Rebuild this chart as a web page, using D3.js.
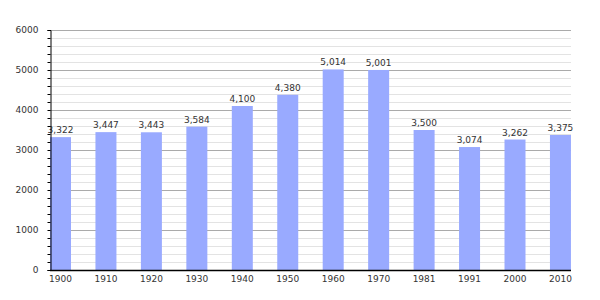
<!DOCTYPE html>
<html><head><meta charset="utf-8">
<script src="https://cdn.jsdelivr.net/npm/d3@7"></script>
<style>body{margin:0;background:#fff}svg{display:block}</style>
</head><body>
<svg id="c" width="600" height="300"></svg>
<script>
const years = ["1900","1910","1920","1930","1940","1950","1960","1970","1981","1991","2000","2010"];
const population = [3322,3447,3443,3584,4100,4380,5014,5001,3500,3074,3262,3375];
const yTicks = [0,1000,2000,3000,4000,5000,6000];

(function(){
const svg = d3.select("#c");
const mLeft = 50, mTop = 30, mBottom = 270, gridRight = 571;
const x = d3.scaleBand().domain(years).range([mLeft, mLeft + 12*45.45]).padding(0);
const barW = 21;
const y = d3.scaleLinear().domain([0,6000]).range([mBottom, mTop]);
const font = "DejaVu Sans, Verdana, sans-serif";

// minor gridlines
const minor = d3.range(200, 6001, 200).filter(v => v % 1000 !== 0);
svg.append("g").selectAll("line").data(minor).join("line")
  .attr("x1", mLeft).attr("x2", gridRight)
  .attr("y1", d => Math.round(y(d))+0.5).attr("y2", d => Math.round(y(d))+0.5)
  .attr("stroke", "#e3e3e3").attr("stroke-width", 1);
// major gridlines
svg.append("g").selectAll("line").data(yTicks.filter(v=>v>0)).join("line")
  .attr("x1", mLeft).attr("x2", gridRight)
  .attr("y1", d => Math.round(y(d))+0.5).attr("y2", d => Math.round(y(d))+0.5)
  .attr("stroke", "#aaaaaa").attr("stroke-width", 1);

// bars
svg.append("g").selectAll("rect").data(population).join("rect")
  .attr("x", (d,i) => x(years[i]))
  .attr("y", d => y(d))
  .attr("width", barW)
  .attr("height", d => mBottom - y(d))
  .attr("fill", "#99aaff");

// value labels
svg.append("g").selectAll("text").data(population).join("text")
  .attr("x", (d,i) => x(years[i]) + barW/2)
  .attr("y", d => y(d) - 4)
  .attr("text-anchor", "middle")
  .attr("font-family", font).attr("font-size", 9).attr("fill", "#333")
  .text(d => d3.format(",")(d));

// y axis
const yAxis = d3.axisLeft(y).tickValues(d3.range(0,6001,200)).tickSize(3)
  .tickFormat(d => d % 1000 === 0 ? String(d) : "");
const ya = svg.append("g").attr("transform", `translate(${mLeft+0.5},0)`).call(yAxis);
ya.select(".domain").attr("stroke", "#000");
ya.selectAll(".tick line").attr("stroke", "#000");
ya.selectAll(".tick text").attr("font-family", font).attr("font-size", 9).attr("fill", "#333").attr("x", -12);

// x axis
const xAxis = d3.axisBottom(x).tickSize(0).tickFormat((d) => d);
const xa = svg.append("g").attr("transform", `translate(0,${mBottom+0.5})`).call(xAxis);
xa.select(".domain").remove();
xa.selectAll(".tick").attr("transform", d => `translate(${x(d) + barW/2},0)`);
xa.selectAll(".tick text").attr("font-family", font).attr("font-size", 9).attr("fill", "#333").attr("y", 5);
svg.append("line").attr("x1", mLeft).attr("x2", gridRight).attr("y1", mBottom+0.5).attr("y2", mBottom+0.5)
  .attr("stroke", "#000").attr("stroke-width", 1.5);
})();
</script>
</body></html>
